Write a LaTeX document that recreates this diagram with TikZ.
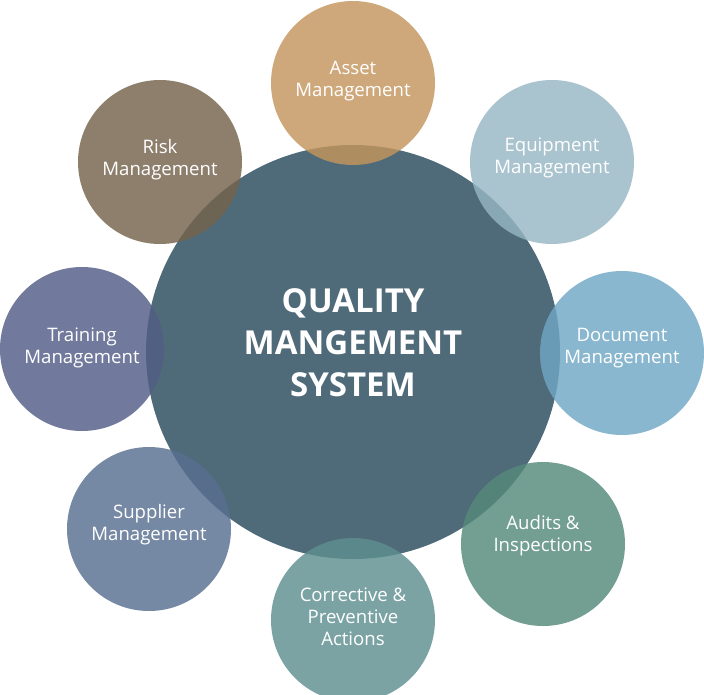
\documentclass[tikz,border=0pt]{standalone}
\usepackage{fontspec}
\setmainfont{Open Sans}
\usepackage{xcolor}
\definecolor{coreBack}   {HTML}{4F6A78}
\definecolor{assetBack}  {HTML}{C3955D}
\definecolor{equipBack}  {HTML}{96B6C4}
\definecolor{docBack}    {HTML}{6FA7C4}
\definecolor{auditBack}  {HTML}{54897A}
\definecolor{capaBack}   {HTML}{5E8F90}
\definecolor{supplyBack} {HTML}{586F90}
\definecolor{trainBack}  {HTML}{525D86}
\definecolor{riskBack}   {HTML}{75634C}
\tikzset{
    hub/.style={circle, fill=coreBack, minimum size=414pt, inner sep=0pt},
    hubtext/.style={text=white, align=center,
                    font=\bfseries\fontsize{33}{42}\selectfont},
    topic/.style={circle, minimum size=164pt, inner sep=0pt,
                  fill opacity=0.82},
    topictext/.style={text=white, align=center,
                      font=\fontsize{18.6}{22}\selectfont},
}

\begin{document}
\begin{tikzpicture}[x=1pt, y=-1pt]
    \useasboundingbox (0,0) rectangle (704,694);
    % central system
    \node[hub, label={[hubtext, yshift=9pt]center:QUALITY\\MANGEMENT\\SYSTEM}] (qms) at (353,352) {};
    % surrounding areas (semi-transparent, drawn on top)
    \node[topic, fill=assetBack, label={[topictext, yshift=2pt]center:Asset\\Management}] (asset) at (353,83) {};
    \node[topic, fill=equipBack, label={[topictext, yshift=4pt]center:Equipment\\Management}] (equip) at (552,162) {};
    \node[topic, fill=docBack, label={[topictext, yshift=5pt]center:Document\\Management}] (doc) at (622,353) {};
    \node[topic, fill=auditBack, label={[topictext, yshift=8pt]center:Audits \&\\Inspections}] (audit) at (543,544) {};
    \node[topic, fill=capaBack, label={[topictext, yshift=3pt]center:Corrective \&\\Preventive\\Actions}] (capa) at (353,620) {};
    \node[topic, fill=supplyBack, label={[topictext, yshift=4pt]center:Supplier\\Management}] (supply) at (149,529) {};
    \node[topic, fill=trainBack, label={[topictext, yshift=1pt]center:Training\\Management}] (train) at (82,349) {};
    \node[topic, fill=riskBack, label={[topictext, yshift=2pt]center:Risk\\Management}] (risk) at (160,162) {};
\end{tikzpicture}
\end{document}
